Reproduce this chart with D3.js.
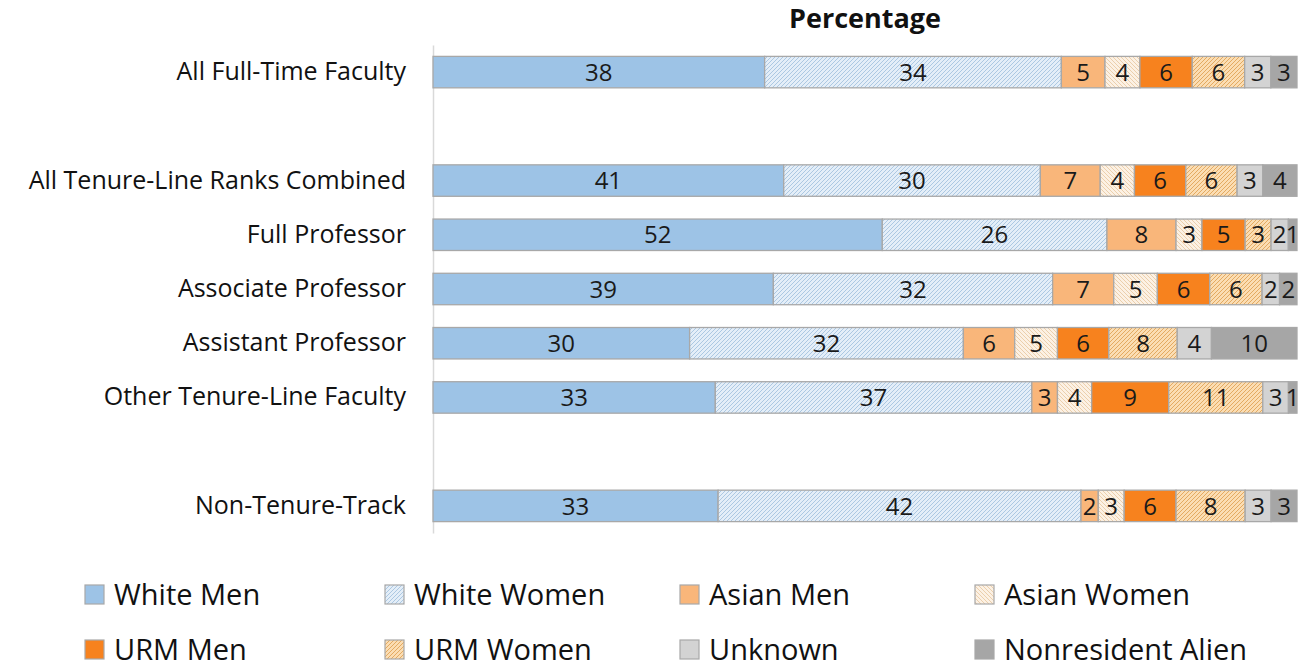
<!DOCTYPE html>
<html>
<head>
<meta charset="utf-8">
<script src="https://cdn.jsdelivr.net/npm/d3@7"></script>
<style>
  html, body { margin: 0; padding: 0; background: #fff; }
  svg { display: block; font-family: "Open Sans", "Noto Sans", sans-serif; }
</style>
</head>
<body>
<svg id="chart" width="1313" height="669"></svg>
<script>
// Faculty composition by rank (percentages)
const categories = [
  "All Full-Time Faculty", "gap1",
  "All Tenure-Line Ranks Combined", "Full Professor", "Associate Professor",
  "Assistant Professor", "Other Tenure-Line Faculty", "gap2",
  "Non-Tenure-Track"
];
const rows = ["All Full-Time Faculty", "All Tenure-Line Ranks Combined", "Full Professor",
  "Associate Professor", "Assistant Professor", "Other Tenure-Line Faculty", "Non-Tenure-Track"];

const seriesNames = ["White Men", "White Women", "Asian Men", "Asian Women",
  "URM Men", "URM Women", "Unknown", "Nonresident Alien"];

const whiteMen    = [38, 41, 52, 39, 30, 33, 33];
const whiteWomen  = [34, 30, 26, 32, 32, 37, 42];
const asianMen    = [5, 7, 8, 7, 6, 3, 2];
const asianWomen  = [4, 4, 3, 5, 5, 4, 3];
const urmMen      = [6, 6, 5, 6, 6, 9, 6];
const urmWomen    = [6, 6, 3, 6, 8, 11, 8];
const unknown     = [3, 3, 2, 2, 4, 3, 3];
const nonresident = [3, 4, 1, 2, 10, 1, 3];

const seriesValues = [whiteMen, whiteWomen, asianMen, asianWomen, urmMen, urmWomen, unknown, nonresident];

const table = rows.map((r, i) => {
  const o = { category: r };
  seriesNames.forEach((s, j) => { o[s] = seriesValues[j][i]; });
  return o;
});

const svg = d3.select("#chart");

// Fills: solid colours and hatched patterns
const defs = svg.append("defs");
function hatch(id, bg, line, dir) {
  const p = defs.append("pattern")
    .attr("id", id).attr("patternUnits", "userSpaceOnUse")
    .attr("width", 4).attr("height", 4);
  p.append("rect").attr("width", 4).attr("height", 4).attr("fill", bg);
  const d = dir > 0 ? "M-1,1 l2,-2 M0,4 l4,-4 M3,5 l2,-2" : "M-1,3 l2,2 M0,0 l4,4 M3,-1 l2,2";
  p.append("path").attr("d", d).attr("stroke", line).attr("stroke-width", 0.9);
  return `url(#${id})`;
}
const fills = {
  "White Men": "#9DC3E6",
  "White Women": hatch("hWW", "#E4EEF8", "#A6C4E0", 1),
  "Asian Men": "#F9B67A",
  "Asian Women": hatch("hAW", "#FCF1E4", "#E9CBA6", -1),
  "URM Men": "#F7821E",
  "URM Women": hatch("hUW", "#FBDDB3", "#E0A458", 1),
  "Unknown": "#D3D3D3",
  "Nonresident Alien": "#A6A6A6"
};

const x = d3.scaleLinear().domain([0, 1]).range([433, 1297]);
const y = d3.scaleBand().domain(categories).range([45, 533]).paddingInner(0.42).paddingOuter(0.21);

const stack = d3.stack().keys(seriesNames).offset(d3.stackOffsetExpand);
const stacked = stack(table);

// Title
svg.append("text")
  .attr("x", 865).attr("y", 28)
  .attr("text-anchor", "middle")
  .attr("font-size", 27).attr("font-weight", "bold").attr("fill", "#111")
  .text("Percentage");

// Category axis
const yAxis = d3.axisLeft(y).tickSize(0).tickPadding(27)
  .tickFormat(d => d.startsWith("gap") ? "" : d);
const ax = svg.append("g").attr("transform", "translate(433,0)").call(yAxis);
ax.select(".domain").attr("stroke", "#D9D9D9").attr("stroke-width", 1.5);
ax.selectAll("text").attr("font-size", 25).attr("fill", "#111")
  .attr("font-family", "'Open Sans', sans-serif");

// Bars
const groups = svg.append("g").selectAll("g").data(stacked).join("g")
  .attr("fill", d => fills[d.key]);
groups.selectAll("rect").data(d => d).join("rect")
  .attr("x", d => x(d[0]))
  .attr("y", d => y(d.data.category))
  .attr("width", d => x(d[1]) - x(d[0]))
  .attr("height", y.bandwidth())
  .attr("stroke", "#A8A8A8").attr("stroke-width", 1.3);

// Value labels
const labels = svg.append("g");
stacked.forEach(layer => {
  layer.forEach(d => {
    labels.append("text")
      .attr("x", (x(d[0]) + x(d[1])) / 2)
      .attr("y", y(d.data.category) + y.bandwidth() / 2)
      .attr("dy", "0.36em")
      .attr("text-anchor", "middle")
      .attr("font-size", 24).attr("fill", "#1a1a1a")
      .text(d.data[layer.key]);
  });
});

// Legend
const legendPos = [
  [85, 594], [385, 594], [680, 594], [975, 594],
  [85, 649], [385, 649], [680, 649], [975, 649]
];
const legendOrder = ["White Men", "White Women", "Asian Men", "Asian Women",
  "URM Men", "URM Women", "Unknown", "Nonresident Alien"];
const lg = svg.append("g").selectAll("g").data(legendOrder).join("g")
  .attr("transform", (d, i) => `translate(${legendPos[i][0]},${legendPos[i][1]})`);
lg.append("rect")
  .attr("x", 0).attr("y", -9).attr("width", 19).attr("height", 19)
  .attr("fill", d => fills[d]).attr("stroke", "#A8A8A8").attr("stroke-width", 1.2);
lg.append("text")
  .attr("x", 29).attr("y", 11)
  .attr("font-size", 29).attr("fill", "#111")
  .text(d => d);
</script>
</body>
</html>
